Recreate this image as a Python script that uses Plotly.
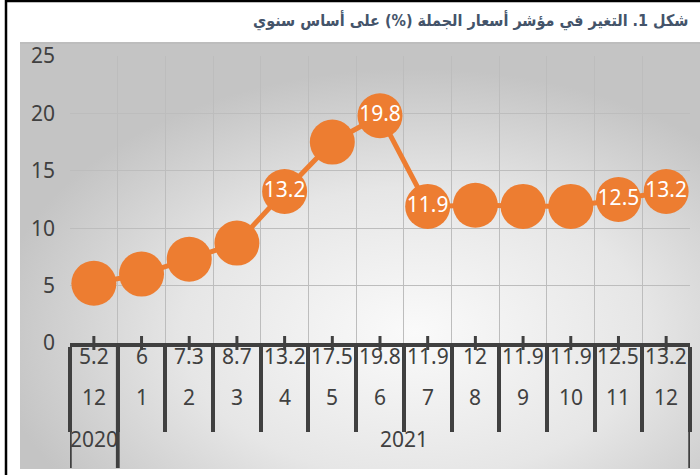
import base64
import plotly.graph_objects as go

# ---- data ----
values = [5.2, 6, 7.3, 8.7, 13.2, 17.5, 19.8, 11.9, 12, 11.9, 11.9, 12.5, 13.2]
months = ["12", "1", "2", "3", "4", "5", "6", "7", "8", "9", "10", "11", "12"]
years = ["2020", "2021", "2021", "2021", "2021", "2021", "2021", "2021", "2021", "2021", "2021", "2021", "2021"]
labelled = [False, False, False, False, True, False, True, True, False, False, False, True, True]
y_ticks = [0, 5, 10, 15, 20, 25]
title = "شكل 1. التغير في مؤشر أسعار الجملة (%) على أساس سنوي"

# ---- geometry (pixels) ----
W, H = 700, 475
ML, MR, MT, MB = 70, 10, 56, 132
PW, PH = W - ML - MR, H - MT - MB
def px_x(p): return (p - ML) / PW
def px_y(p): return (H - MB - p) / PH

n = len(values)
idx = list(range(n))
bounds = [i - 0.5 for i in range(n + 1)]

ink = "#404040"
orange = "#ED7D31"
numfont = "Noto Sans"

# radial gradient background as svg
svg = f'''<svg xmlns="http://www.w3.org/2000/svg" width="680" height="427" viewBox="0 0 680 427" preserveAspectRatio="none">
<defs><radialGradient id="g" cx="0.58" cy="0.68" r="0.62" gradientUnits="objectBoundingBox">
<stop offset="0" stop-color="#fafafa"/><stop offset="0.55" stop-color="#e6e6e6"/><stop offset="1" stop-color="#c4c4c4"/>
</radialGradient></defs><rect width="680" height="427" fill="url(#g)"/></svg>'''
src = "data:image/svg+xml;base64," + base64.b64encode(svg.encode()).decode()

fig = go.Figure()

# minor ticks at category centres
fig.add_trace(go.Scatter(
    x=idx, y=[0] * n, mode="markers",
    marker=dict(symbol="line-ns", size=10, line=dict(width=3, color=ink), color=ink),
    cliponaxis=False, hoverinfo="skip", showlegend=False))

fig.add_trace(go.Scatter(
    x=idx, y=values, mode="lines+markers+text",
    line=dict(color=orange, width=5),
    marker=dict(size=45, color=orange),
    text=[f"{v:g}" if s else "" for v, s in zip(values, labelled)],
    textposition="middle center",
    textfont=dict(color="white", size=21, family=numfont),
    cliponaxis=False, hoverinfo="skip", showlegend=False))

annotations = []
# value row and month row
for i, (v, m) in enumerate(zip(values, months)):
    annotations.append(dict(x=i, y=px_y(372), xref="x", yref="paper", text=f"{v:g}",
                            showarrow=False, font=dict(size=21, color=ink, family=numfont)))
    annotations.append(dict(x=i, y=px_y(413), xref="x", yref="paper", text=m,
                            showarrow=False, font=dict(size=21, color=ink, family=numfont)))
# year row
groups = []
for i, yv in enumerate(years):
    if groups and groups[-1][0] == yv:
        groups[-1][2] = i
    else:
        groups.append([yv, i, i])
shapes = []
for yv, a, b in groups:
    annotations.append(dict(x=(a + b) / 2, y=px_y(455), xref="x", yref="paper", text=yv,
                            showarrow=False, font=dict(size=21, color=ink, family=numfont)))
    for xb in (a - 0.5, b + 0.5):
        shapes.append(dict(type="line", xref="x", yref="paper", x0=xb, x1=xb,
                           y0=0, y1=px_y(468), line=dict(color=ink, width=3.5)))

# title
annotations.append(dict(x=px_x(690), y=px_y(21), xref="paper", yref="paper", text=f"<b>{title}</b>",
                        xanchor="right", yanchor="middle", showarrow=False,
                        font=dict(size=16, color="#44546A", family="DejaVu Sans Condensed, DejaVu Sans")))

# frame lines
shapes.append(dict(type="line", xref="paper", yref="paper", x0=px_x(6), x1=px_x(6),
                   y0=px_y(0), y1=px_y(475), line=dict(color="black", width=2.5)))
shapes.append(dict(type="line", xref="paper", yref="paper", x0=px_x(5), x1=px_x(700),
                   y0=px_y(1), y1=px_y(1), line=dict(color="black", width=2.5)))
shapes.append(dict(type="line", xref="paper", yref="paper", x0=px_x(20), x1=px_x(700),
                   y0=px_y(43), y1=px_y(43), line=dict(color="#bdbdbd", width=2), layer="below"))

fig.update_layout(
    width=W, height=H,
    margin=dict(l=ML, r=MR, t=MT, b=MB),
    paper_bgcolor="white", plot_bgcolor="rgba(0,0,0,0)",
    showlegend=False,
    annotations=annotations, shapes=shapes,
    images=[dict(source=src, xref="paper", yref="paper",
                 x=px_x(20), y=px_y(43), sizex=680 / PW, sizey=(469 - 43) / PH,
                 xanchor="left", yanchor="top", sizing="stretch", layer="below")],
    xaxis=dict(range=[-0.5, n - 0.5], tickmode="array", tickvals=bounds,
               showticklabels=False, ticks="outside", ticklen=85, tickwidth=3.5, tickcolor=ink,
               showgrid=True, gridcolor="#bdbdbd", gridwidth=1,
               showline=True, linecolor=ink, linewidth=4, zeroline=False, fixedrange=True),
    yaxis=dict(range=[0, 25], tickmode="array", tickvals=y_ticks,
               ticks="", ticklabelstandoff=14,
               tickfont=dict(size=21, color=ink, family=numfont),
               showgrid=True, gridcolor="#bdbdbd", gridwidth=1,
               showline=False, zeroline=False, fixedrange=True),
)

fig.write_html("out.html")
